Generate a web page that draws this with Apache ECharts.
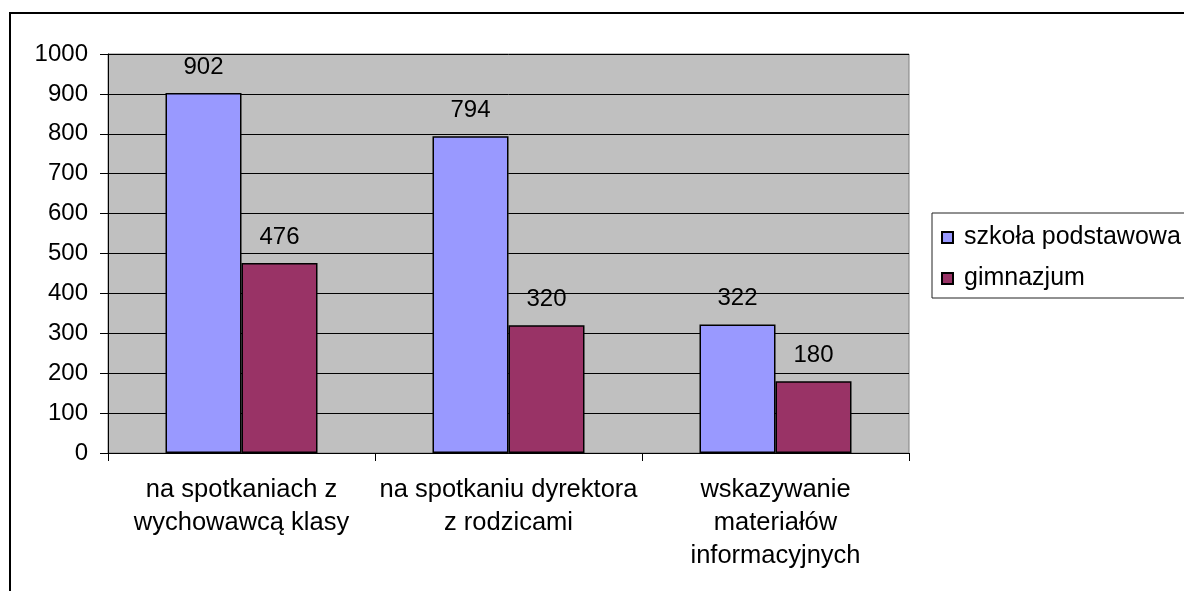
<!DOCTYPE html>
<html>
<head>
<meta charset="utf-8">
<script src="https://cdn.jsdelivr.net/npm/echarts@6/dist/echarts.min.js"></script>
<style>
  html, body { margin: 0; padding: 0; background: #fff; }
  #chart { width: 1184px; height: 591px; }
</style>
</head>
<body>
<div id="chart"></div>
<script>
const categories = [
  "na spotkaniach z\nwychowawcą klasy",
  "na spotkaniu dyrektora\nz rodzicami",
  "wskazywanie\nmateriałów\ninformacyjnych"
];
const szkolaPodstawowa = [902, 794, 322];
const gimnazjum = [476, 320, 180];

const font = "'Liberation Sans', Arial, sans-serif";

let chart = echarts.init(document.getElementById("chart"));

const barLabel = {
  show: true,
  position: "top",
  distance: 14,
  color: "#000",
  fontSize: 24,
  fontFamily: font
};

chart.setOption({
  animation: false,
  textStyle: { fontFamily: font, color: "#000" },
  // outer chart frame
  graphic: [{
    type: "rect",
    silent: true,
    shape: { x: 10, y: 13, width: 1300, height: 700 },
    style: { fill: "none", stroke: "#000", lineWidth: 2 }
  }],
  grid: {
    left: 108,
    top: 54,
    right: 275,
    bottom: 138,
    show: true,
    backgroundColor: "#C0C0C0",
    borderColor: "#808080",
    borderWidth: 1
  },
  legend: {
    orient: "vertical",
    left: 932,
    top: 213,
    padding: [12, 80, 7, 9],
    itemGap: 16,
    itemWidth: 11,
    itemHeight: 11,
    borderColor: "#222",
    borderWidth: 1,
    icon: "rect",
    textStyle: { fontSize: 25, color: "#000", fontFamily: font, padding: [0, 0, 0, 6] },
    data: ["szkoła podstawowa", "gimnazjum"]
  },
  xAxis: {
    type: "category",
    data: categories,
    axisLine: { lineStyle: { color: "#000", width: 1 } },
    axisTick: { show: true, length: 8, lineStyle: { color: "#000" } },
    axisLabel: {
      margin: 20,
      fontSize: 25.5,
      lineHeight: 33,
      color: "#000",
      fontFamily: font,
      interval: 0
    }
  },
  yAxis: {
    type: "value",
    min: 0,
    max: 1000,
    interval: 100,
    axisLine: { show: true, lineStyle: { color: "#000", width: 1 } },
    axisTick: { show: true, length: 8, lineStyle: { color: "#000" } },
    axisLabel: {
      margin: 20,
      fontSize: 24,
      color: "#000",
      fontFamily: font,
      formatter: (v) => String(v)
    },
    splitLine: { show: true, lineStyle: { color: "#000", width: 1 } }
  },
  series: [
    {
      name: "szkoła podstawowa",
      type: "bar",
      data: szkolaPodstawowa,
      barWidth: 76,
      barGap: "0%",
      itemStyle: { color: "#9999FF", borderColor: "#000", borderWidth: 1.5 },
      label: barLabel
    },
    {
      name: "gimnazjum",
      type: "bar",
      data: gimnazjum,
      barWidth: 76,
      barGap: "0%",
      itemStyle: { color: "#993366", borderColor: "#000", borderWidth: 1.5 },
      label: barLabel
    }
  ]
});

window.addEventListener("resize", () => {
  if (chart) {
    chart.resize();
  }
});
</script>
</body>
</html>
